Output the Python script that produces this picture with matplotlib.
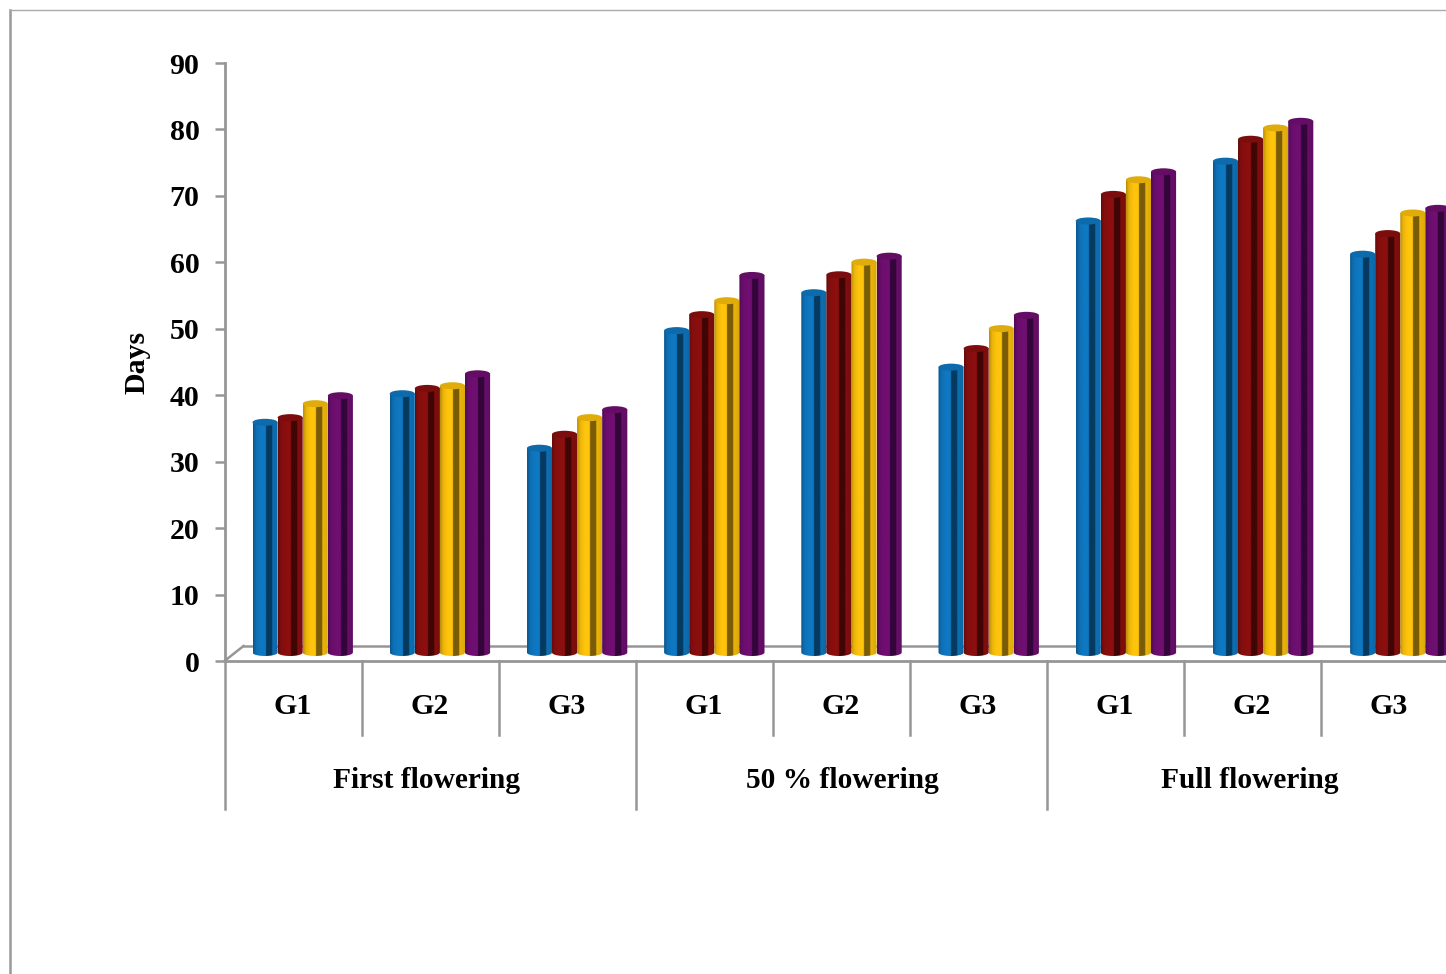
import numpy as np
import matplotlib.pyplot as plt
from matplotlib.colors import to_rgb
from matplotlib.lines import Line2D
from matplotlib.patches import Ellipse
from matplotlib.path import Path

plt.rcParams['font.family'] = ['Liberation Serif', 'DejaVu Serif']
plt.rcParams['font.weight'] = 'bold'

# Values, one list per colour
blue = [35.7, 40.0, 31.8, 49.5, 55.2, 44.0, 66.0, 75.0, 61.0]
maroon = [36.4, 40.8, 33.9, 51.9, 57.9, 46.8, 70.0, 78.3, 64.1]
yellow = [38.5, 41.2, 36.4, 54.0, 59.8, 49.8, 72.2, 80.0, 67.2]
purple = [39.7, 43.0, 37.6, 57.8, 60.7, 51.8, 73.4, 81.0, 67.9]
series = [blue, maroon, yellow, purple]
colors = ['#0F78C2', '#8C0F0F', '#FFC40C', '#700F72']
stripes = ['#063A60', '#400505', '#7A5C08', '#33053A']

genotypes = ['G1', 'G2', 'G3'] * 3
stages = ['First flowering', '50 % flowering', 'Full flowering']
stage_pos = [1.47, 4.5, 7.47]
yticks = list(range(0, 100, 10))

W, H = 1446, 974
GRAY = '#969696'
GROUP_PX = 137.2
px_x = 1 / GROUP_PX
px_y = 90 / 598

fig = plt.figure(figsize=(W / 100, H / 100), dpi=100)
ax = fig.add_axes([224.5 / W, (H - 661) / H, (W - 224.5) / W, 598 / H])
ax.set_xlim(0, (W - 224.5) / GROUP_PX)
ax.set_ylim(0, 90)

# page frame
fig.add_artist(Line2D([10 / W, 10 / W], [0, 1 - 10 / H], color='#999999', lw=1.8))
fig.add_artist(Line2D([10 / W, 1], [1 - 10 / H, 1 - 10 / H], color='#aaaaaa', lw=1))

# floor of the 3d box
ax.plot([0, 19 * px_x], [0, 15 * px_y], color=GRAY, lw=1.8, zorder=1, clip_on=False)
ax.plot([19 * px_x, 9], [15 * px_y, 15 * px_y], color=GRAY, lw=1.8, zorder=1)


def shade(base, stripe):
    pos = np.linspace(0, 1, 120)
    base = np.array(to_rgb(base))
    stripe = np.array(to_rgb(stripe))
    f = np.interp(pos, [0, 0.12, 0.3, 0.5, 1], [0.72, 0.92, 1.0, 1.0, 0.85])
    img = np.clip(f[:, None] * base, 0, 1)
    img[(pos > 0.5) & (pos < 0.74)] = stripe
    return img[None, :, :]


# bars stand a little in front of the axis, as in a 3d chart
base_y = 8.5 * px_y
top_shift = 7 * px_y
bar_w = 25.1 * px_x
ell_h = 7 * px_y
start = 28 * px_x

for k, vals in enumerate(series):
    xs = np.arange(len(vals)) + start + (k + 0.5) * bar_w
    bars = ax.bar(xs, np.array(vals) - top_shift, width=bar_w, bottom=base_y,
                  color='none', zorder=3 + k)
    for b in bars:
        x0, x1 = b.get_x(), b.get_x() + b.get_width()
        top = b.get_y() + b.get_height()
        cx = (x0 + x1) / 2
        t = np.linspace(np.pi, 2 * np.pi, 30)
        low_x = cx + bar_w / 2 * np.cos(t)
        low_y = base_y + ell_h / 2 * np.sin(t)
        verts = [(x0, top)] + list(zip(low_x, low_y)) + [(x1, top), (x0, top)]
        im = ax.imshow(shade(colors[k], stripes[k]), extent=[x0, x1, base_y - ell_h, top],
                       aspect='auto', zorder=3 + k, interpolation='bilinear')
        im.set_clip_path(Path(verts), transform=ax.transData)
        ax.add_patch(Ellipse((cx, top), bar_w, ell_h,
                             facecolor=np.array(to_rgb(colors[k])) * 0.88,
                             edgecolor='none', zorder=3 + k + 0.5, clip_on=False))

ax.set_xlim(0, (W - 224.5) / GROUP_PX)
ax.set_ylim(0, 90)

# axes
for s in ['top', 'right']:
    ax.spines[s].set_visible(False)
for s in ['left', 'bottom']:
    ax.spines[s].set_color(GRAY)
    ax.spines[s].set_linewidth(2)
ax.patch.set_alpha(0)
ax.set_xticks([])
ax.set_yticks(yticks)
ax.tick_params(axis='y', length=7, width=1.8, color=GRAY, pad=11, labelsize=21.5)
ax.set_ylabel('Days', fontsize=21.5, fontweight='bold', labelpad=14)

# two level category axis
trans = ax.get_xaxis_transform()
low1 = -74 / 598
low2 = -148 / 598
sep = 137.0 / GROUP_PX
for i in range(0, 10):
    end = low2 if i % 3 == 0 else low1
    ax.plot([i * sep, i * sep], [0, end], color=GRAY, lw=1.8, transform=trans, clip_on=False)
for i, name in enumerate(genotypes):
    ax.text((i + 0.5) * sep, -46 / 598, name, transform=trans, ha='center', va='center',
            fontsize=21.5, fontweight='bold')
for i, name in enumerate(stages):
    ax.text(stage_pos[i], -120 / 598, name, transform=trans, ha='center', va='center',
            fontsize=21.2, fontweight='bold')

fig.savefig('out.png', dpi=100)
